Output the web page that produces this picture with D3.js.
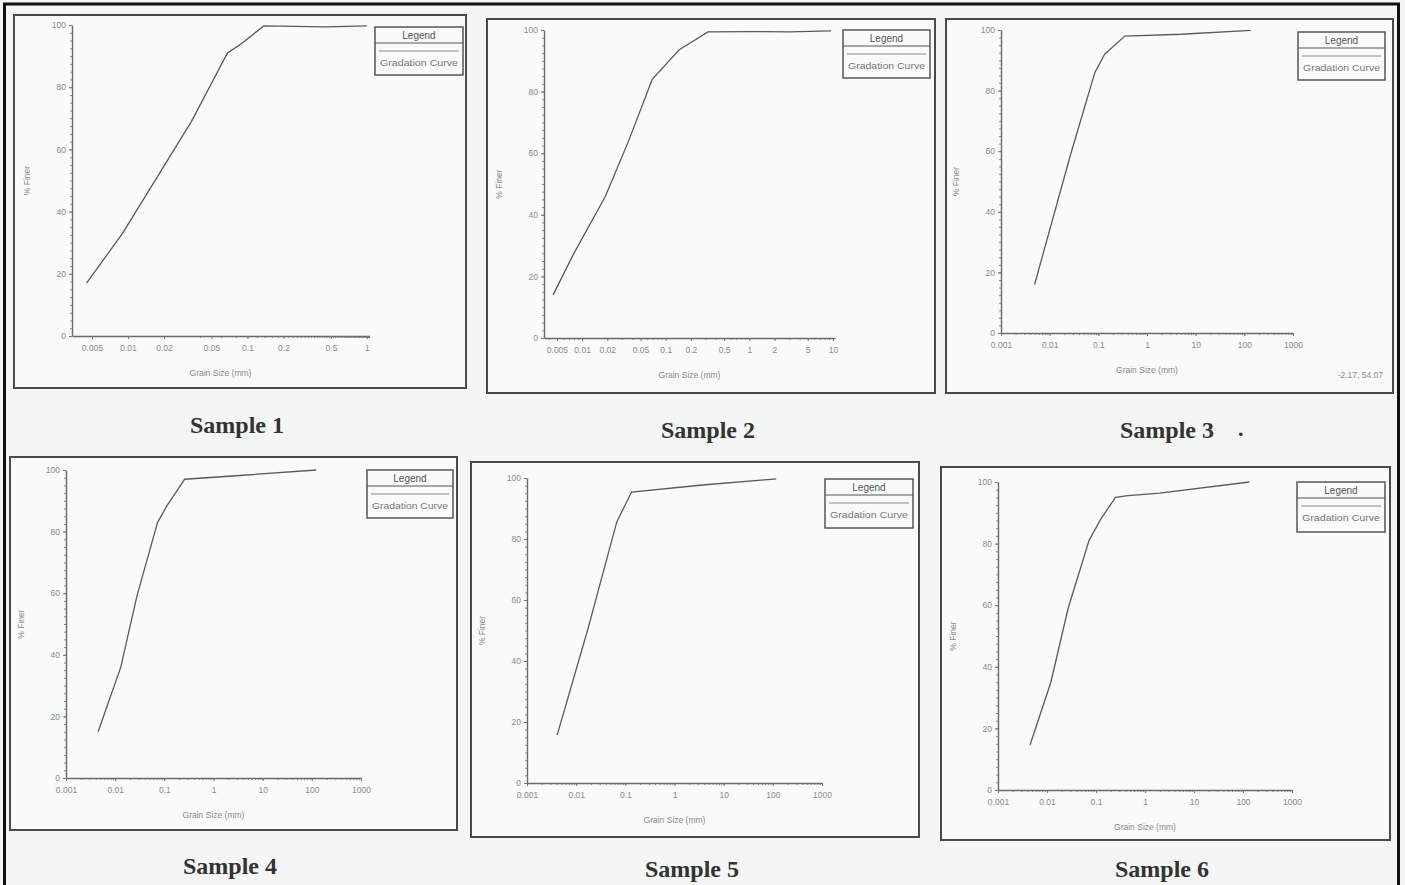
<!DOCTYPE html>
<html>
<head>
<meta charset="utf-8">
<script src="https://cdn.jsdelivr.net/npm/d3@7"></script>
<style>
  html, body { margin: 0; padding: 0; background: #f4f5f5; }
  svg { display: block; }
</style>
</head>
<body>
<svg id="chart" width="1405" height="885"></svg>
<script>
// ---------- DATA ----------
const sampleNames = ["Sample 1", "Sample 2", "Sample 3", "Sample 4", "Sample 5", "Sample 6"];

const sample1Size  = [0.0045, 0.009, 0.034, 0.068, 0.086, 0.137, 0.45, 1.0];
const sample1Finer = [17, 33, 69, 91, 93.6, 99.7, 99.4, 99.7];

const sample2Size  = [0.0045, 0.0078, 0.019, 0.036, 0.069, 0.144, 0.32, 1.0, 3.0, 9.5];
const sample2Finer = [14, 27, 46, 64, 84, 93.5, 99.4, 99.5, 99.4, 99.7];

const sample3Size  = [0.0049, 0.027, 0.085, 0.135, 0.35, 5, 135];
const sample3Finer = [16, 59, 86, 92, 98, 98.6, 99.9];

const sample4Size  = [0.0045, 0.013, 0.028, 0.073, 0.115, 0.26, 4, 123];
const sample4Finer = [15, 36, 59.4, 83, 88.6, 97, 98.3, 100];

const sample5Size  = [0.0041, 0.017, 0.067, 0.134, 3.7, 117];
const sample5Finer = [15.7, 50, 85.6, 95.4, 97.7, 99.7];

const sample6Size  = [0.0045, 0.012, 0.027, 0.072, 0.126, 0.25, 0.45, 2, 135];
const sample6Finer = [14.6, 35, 59, 81, 88, 95, 95.6, 96.4, 100];

const xTicks1 = [0.005, 0.01, 0.02, 0.05, 0.1, 0.2, 0.5, 1];
const xTickLabels1 = ["0.005", "0.01", "0.02", "0.05", "0.1", "0.2", "0.5", "1"];
const xTicks2 = [0.005, 0.01, 0.02, 0.05, 0.1, 0.2, 0.5, 1, 2, 5, 10];
const xTickLabels2 = ["0.005", "0.01", "0.02", "0.05", "0.1", "0.2", "0.5", "1", "2", "5", "10"];
const xTicksWide = [0.001, 0.01, 0.1, 1, 10, 100, 1000];
const xTickLabelsWide = ["0.001", "0.01", "0.1", "1", "10", "100", "1000"];

const yTicks = [0, 20, 40, 60, 80, 100];
const yTickLabels = ["0", "20", "40", "60", "80", "100"];

const xDomain1 = [0.0034, 1.04];
const xDomain2 = [0.0035, 10.6];
const xDomainWide = [0.001, 1000];

const yAxisTitle = "% Finer";
const xAxisTitle = "Grain Size (mm)";
const legendTitle = "Legend";
const legendItem = "Gradation Curve";

// ---------- LAYOUT ----------
const series = [
  { size: sample1Size, finer: sample1Finer, ticks: xTicks1, labels: xTickLabels1, domain: xDomain1 },
  { size: sample2Size, finer: sample2Finer, ticks: xTicks2, labels: xTickLabels2, domain: xDomain2 },
  { size: sample3Size, finer: sample3Finer, ticks: xTicksWide, labels: xTickLabelsWide, domain: xDomainWide },
  { size: sample4Size, finer: sample4Finer, ticks: xTicksWide, labels: xTickLabelsWide, domain: xDomainWide },
  { size: sample5Size, finer: sample5Finer, ticks: xTicksWide, labels: xTickLabelsWide, domain: xDomainWide },
  { size: sample6Size, finer: sample6Finer, ticks: xTicksWide, labels: xTickLabelsWide, domain: xDomainWide }
];

// frame: [x0, y0, x1, y1]; plot: [left, top, right, bottom]; legend: [x0, y0, x1, y1]; title: [cx, baseline]
const layout = [
  { frame: [14, 15, 466, 388],  plot: [72, 25, 369, 336],    legend: [375, 27, 463, 75],    title: [237, 433] },
  { frame: [487, 19, 935, 393], plot: [544, 30, 835, 338],   legend: [843, 30, 930, 78],    title: [708, 438] },
  { frame: [946, 19, 1393, 393], plot: [1001, 30, 1293, 333], legend: [1298, 32, 1385, 80], title: [1167, 438] },
  { frame: [10, 457, 457, 830], plot: [66, 470, 361, 778],   legend: [367, 470, 453, 518],  title: [230, 874] },
  { frame: [471, 462, 919, 837], plot: [527, 478, 822, 783], legend: [825, 479, 913, 528],  title: [692, 877] },
  { frame: [941, 467, 1390, 840], plot: [998, 482, 1292, 790], legend: [1297, 482, 1385, 532], title: [1162, 877] }
];

const svg = d3.select("#chart");
svg.append("rect").attr("x", 0).attr("y", 0).attr("width", 1405).attr("height", 885).attr("fill", "#f4f5f5");

const ink = "#5a5a5a";
const faint = "#8a8a8a";

series.forEach((s, i) => {
  const L = layout[i];
  const g = svg.append("g");
  const [fx0, fy0, fx1, fy1] = L.frame;
  g.append("rect").attr("x", fx0).attr("y", fy0).attr("width", fx1 - fx0).attr("height", fy1 - fy0)
    .attr("fill", "#f9fafa").attr("stroke", "#4a4a4a").attr("stroke-width", 2);

  const [pl, pt, pr, pb] = L.plot;
  const x = d3.scaleLog().domain(s.domain).range([pl, pr]);
  const y = d3.scaleLinear().domain([0, 100]).range([pb, pt]);

  // minor ticks on x axis
  const minor = x.ticks(60).filter(v => v >= s.domain[0] && v <= s.domain[1]);
  g.append("g").attr("transform", `translate(0,${pb})`)
    .call(d3.axisBottom(x).tickValues(minor).tickSize(2).tickFormat(""))
    .call(a => a.select(".domain").remove())
    .selectAll("line").attr("stroke", faint);

  // major x axis
  const xAx = g.append("g").attr("transform", `translate(0,${pb})`)
    .call(d3.axisBottom(x).tickValues(s.ticks).tickSize(3)
      .tickFormat((d, k) => s.labels[k]).tickSizeOuter(0).tickPadding(6));
  xAx.select(".domain").attr("stroke", "#6a6a6a").attr("stroke-width", 1.4);
  xAx.selectAll("line").attr("stroke", "#777");
  xAx.selectAll("text").attr("fill", faint).attr("font-family", "Liberation Sans, Arial, sans-serif").attr("font-size", 8.5);

  // y axis minor ticks
  g.append("g").attr("transform", `translate(${pl},0)`)
    .call(d3.axisLeft(y).tickValues(d3.range(0, 101, 2.5)).tickSize(2).tickFormat(""))
    .call(a => a.select(".domain").remove())
    .selectAll("line").attr("stroke", faint);

  const yAx = g.append("g").attr("transform", `translate(${pl},0)`)
    .call(d3.axisLeft(y).tickValues(yTicks).tickSize(3)
      .tickFormat((d, k) => yTickLabels[k]).tickSizeOuter(0).tickPadding(3));
  yAx.select(".domain").attr("stroke", "#6a6a6a").attr("stroke-width", 1.4);
  yAx.selectAll("line").attr("stroke", "#777");
  yAx.selectAll("text").attr("fill", faint).attr("font-family", "Liberation Sans, Arial, sans-serif").attr("font-size", 8.5);

  // axis titles
  g.append("text").attr("x", (pl + pr) / 2).attr("y", pb + 40)
    .attr("text-anchor", "middle").attr("fill", faint)
    .attr("font-family", "Liberation Sans, Arial, sans-serif").attr("font-size", 8.5)
    .text(xAxisTitle);
  g.append("text")
    .attr("transform", `translate(${pl - 42},${(pt + pb) / 2}) rotate(-90)`)
    .attr("text-anchor", "middle").attr("fill", faint)
    .attr("font-family", "Liberation Sans, Arial, sans-serif").attr("font-size", 8.5)
    .text(yAxisTitle);

  // gradation curve
  const pts = s.size.map((v, k) => [v, s.finer[k]]);
  g.append("path").datum(pts)
    .attr("fill", "none").attr("stroke", ink).attr("stroke-width", 1.3)
    .attr("d", d3.line().x(d => x(d[0])).y(d => y(d[1])));

  // legend
  const [lx0, ly0, lx1, ly1] = L.legend;
  const lg = g.append("g");
  lg.append("rect").attr("x", lx0).attr("y", ly0).attr("width", lx1 - lx0).attr("height", ly1 - ly0)
    .attr("fill", "#f9fafa").attr("stroke", "#555").attr("stroke-width", 1.5);
  lg.append("line").attr("x1", lx0).attr("x2", lx1).attr("y1", ly0 + 16).attr("y2", ly0 + 16)
    .attr("stroke", "#555").attr("stroke-width", 1.2);
  lg.append("text").attr("x", (lx0 + lx1) / 2).attr("y", ly0 + 12)
    .attr("text-anchor", "middle").attr("fill", "#555")
    .attr("font-family", "Liberation Sans, Arial, sans-serif").attr("font-size", 10)
    .text(legendTitle);
  lg.append("line").attr("x1", lx0 + 4).attr("x2", lx1 - 4).attr("y1", ly0 + 24).attr("y2", ly0 + 24)
    .attr("stroke", "#888").attr("stroke-width", 1);
  lg.append("text").attr("x", (lx0 + lx1) / 2).attr("y", ly0 + 39)
    .attr("text-anchor", "middle").attr("fill", "#777")
    .attr("font-family", "Liberation Sans, Arial, sans-serif").attr("font-size", 9)
    .attr("textLength", lx1 - lx0 - 10).attr("lengthAdjust", "spacingAndGlyphs")
    .text(legendItem);

  // sample title
  svg.append("text").attr("x", L.title[0]).attr("y", L.title[1])
    .attr("text-anchor", "middle").attr("fill", "#333")
    .attr("font-family", "Liberation Serif, Times New Roman, serif").attr("font-weight", "bold")
    .attr("font-size", 24)
    .text(sampleNames[i]);
});

// stray marks of the scan
svg.append("text").attr("x", 1238).attr("y", 436).attr("fill", "#333")
  .attr("font-family", "Liberation Serif, serif").attr("font-weight", "bold").attr("font-size", 22).text(".");
svg.append("text").attr("x", 1383).attr("y", 378).attr("text-anchor", "end").attr("fill", faint)
  .attr("font-family", "Liberation Sans, Arial, sans-serif").attr("font-size", 8.5).text("-2.17, 54.07");

// outer border
svg.append("rect").attr("x", 4.5).attr("y", 4).attr("width", 1394).attr("height", 895)
  .attr("fill", "none").attr("stroke", "#111").attr("stroke-width", 3);
</script>
</body>
</html>
